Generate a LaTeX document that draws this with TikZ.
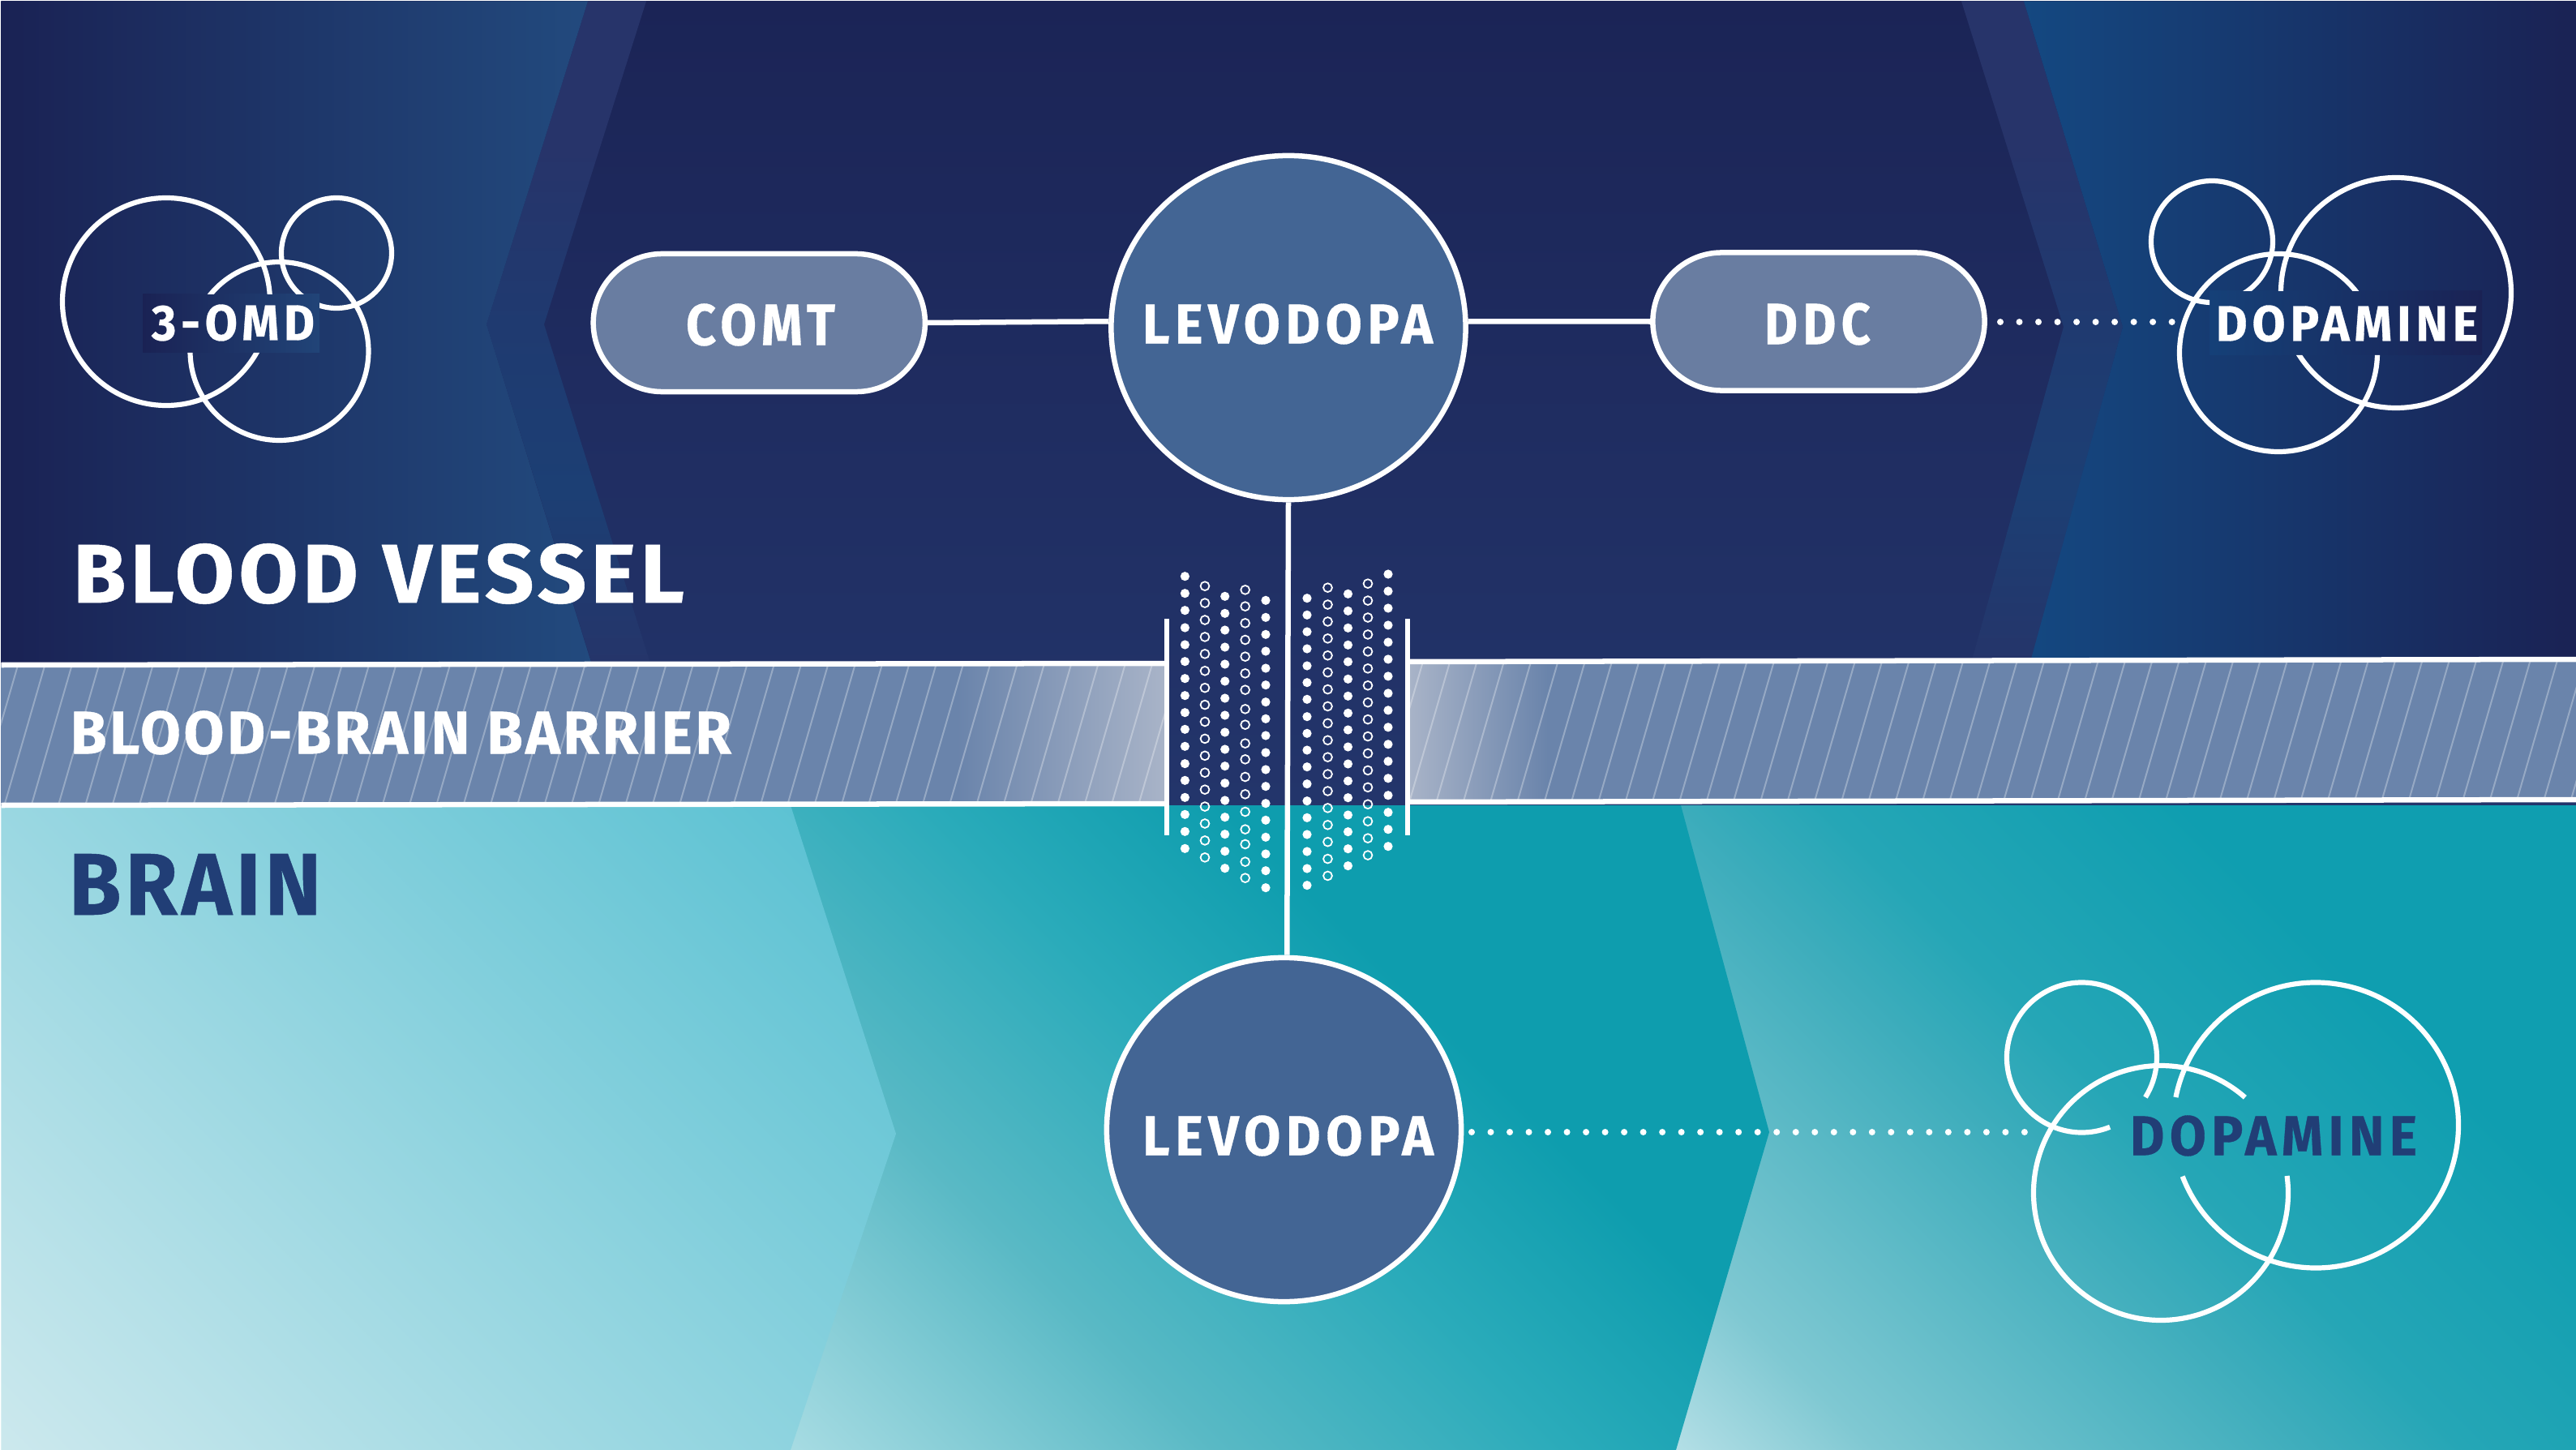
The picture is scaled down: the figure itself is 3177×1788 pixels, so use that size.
\documentclass[tikz,border=0pt]{standalone}
\usepackage{graphicx}
\usepackage{fontspec}
\usetikzlibrary{shapes.misc,shapes.geometric}
\newfontfamily\dinfont{Fira Sans}[LetterSpace=10,BoldFeatures={FakeBold=0.5}]
\newfontfamily\dinwide{Fira Sans}[LetterSpace=5,BoldFeatures={FakeBold=0.5}]
\definecolor{navyA}{HTML}{1B2456}
\definecolor{navyB}{HTML}{23356B}
\definecolor{navyL}{HTML}{1A2254}
\definecolor{blueL}{HTML}{224A7E}
\definecolor{blueR}{HTML}{144881}
\definecolor{bandA}{HTML}{27346A}
\definecolor{bandB}{HTML}{1F3A70}
\definecolor{bandC}{HTML}{1C3F74}
\definecolor{bandD}{HTML}{25356A}
\definecolor{barbase}{HTML}{6A84AB}
\definecolor{barlight}{HTML}{A9B4C8}
\definecolor{circfill}{HTML}{436594}
\definecolor{pillfill}{HTML}{697DA1}
\definecolor{inkblue}{HTML}{213E76}
\definecolor{aa}{HTML}{CBE8ED}
\definecolor{ab}{HTML}{5CC2D3}
\definecolor{ba}{HTML}{A8DCE3}
\definecolor{bb}{HTML}{59B9C5}
\definecolor{bc}{HTML}{2AABBA}
\definecolor{bd}{HTML}{0E9DAE}
\definecolor{ca}{HTML}{B4DFE6}
\definecolor{cb}{HTML}{7FC8D2}
\definecolor{cc}{HTML}{3EADBC}
\definecolor{cd}{HTML}{25A6B6}
\definecolor{ce}{HTML}{0F9EB0}
\pgfdeclareverticalshading{panelA}{100bp}{color(0bp)=(aa);color(15bp)=(aa);color(81bp)=(ab);color(100bp)=(ab)}
\pgfdeclareverticalshading{panelB}{100bp}{color(0bp)=(ba);color(16.75bp)=(ba);color(35bp)=(bb);color(50bp)=(bc);color(62.5bp)=(bd);color(100bp)=(bd)}
\pgfdeclareverticalshading{panelC}{100bp}{color(0bp)=(ca);color(16.75bp)=(ca);color(25.75bp)=(cb);color(45bp)=(cc);color(52bp)=(cd);color(68bp)=(ce);color(100bp)=(ce)}
\pgfdeclarehorizontalshading{barL}{100bp}{color(0bp)=(barbase);color(66bp)=(barbase);color(75bp)=(barlight);color(100bp)=(barlight)}
\pgfdeclarehorizontalshading{barR}{100bp}{color(0bp)=(barlight);color(25bp)=(barlight);color(31bp)=(barbase);color(100bp)=(barbase)}
\pgfdeclareverticalshading{bandshade}{100bp}{color(0bp)=(bandD);color(25bp)=(bandD);color(38bp)=(bandC);color(50.5bp)=(bandB);color(64bp)=(bandA);color(100bp)=(bandA)}
\tikzset{
  rule/.style={draw=white,line width=0.065cm},
  mol/.style={draw=white,line width=0.062cm},
  bigcirc/.style={ellipse,draw=white,line width=0.065cm,fill=circfill,inner sep=0pt,minimum width=4.37cm,minimum height=4.24cm},
  pill/.style={rounded rectangle,draw=white,line width=0.065cm,fill=pillfill,inner sep=0pt,minimum width=4.09cm,minimum height=1.70cm},
  dotline/.style={draw=white,line width=0.08cm,line cap=round,dash pattern=on 0pt off 0.235cm},
  hatch/.style={draw=white,draw opacity=0.3,line width=0.02cm},
  opendot/.style={draw=white,line width=0.018cm},
}
\newcommand{\fitlabel}[7]{%
  \pgfmathsetlengthmacro\fitw{(#4-#2)*0.01cm}%
  \pgfmathsetlengthmacro\fith{(#5-#3)*0.01cm}%
  \node[inner sep=0pt,text=#6] (#1) at ({(#2+#4)/2},{(#3+#5)/2}) {\resizebox{\fitw}{\fith}{\dinfont\bfseries #7}};}
\newcommand{\fitlabelw}[7]{%
  \pgfmathsetlengthmacro\fitw{(#4-#2)*0.01cm}%
  \pgfmathsetlengthmacro\fith{(#5-#3)*0.01cm}%
  \node[inner sep=0pt,text=#6] (#1) at ({(#2+#4)/2},{(#3+#5)/2}) {\resizebox{\fitw}{\fith}{\dinwide\bfseries #7}};}
\newcommand{\molarc}[5]{\draw[mol] ({#1+#3*cos(#4)},{#2+#3*sin(#4)}) arc[start angle=#4,end angle=#5,radius=#3];}
% clip to the whole picture except a box: outer and inner outlines wind in opposite senses
\newcommand{\clipoutbox}[4]{\clip (0,0) -- (3177,0) -- (3177,1788) -- (0,1788) -- cycle (#1,#2) -- (#1,#4) -- (#3,#4) -- (#3,#2) -- cycle;}
\begin{document}
\begin{tikzpicture}[x=0.01cm,y=-0.01cm]
\useasboundingbox (0,0) rectangle (3177,1788);
\fill[white] (0,0) rectangle (3177,1788);
% blood vessel background
\shade[top color=navyA,bottom color=navyB] (1.5,1.5) rectangle (3177,993);
\shade[shading=bandshade] (725,1.5) -- (797,1.5) -- (671,400) -- (802,818) -- (730,818) -- (600,400) -- cycle;
\shade[shading=bandshade] (2419,1.5) -- (2496,1.5) -- (2618,403) -- (2504,818) -- (2431,818) -- (2545,403) -- cycle;
\shade[left color=navyL,right color=blueL] (1.5,1.5) -- (725,1.5) -- (600,400) -- (730,820) -- (1.5,820) -- cycle;
\shade[left color=blueR,right color=navyL] (2496,1.5) -- (3177,1.5) -- (3177,816) -- (2504,816) -- (2618,403) -- cycle;
% brain background
\shade[shading=panelC,shading angle=-45] (2000,993) rectangle (3177,1788);
\shade[shading=panelB,shading angle=-45] (900,993) -- (2073,993) -- (2182,1396) -- (2067,1788) -- (900,1788) -- cycle;
\shade[shading=panelA,shading angle=-45] (1.5,993) -- (975,993) -- (1105,1398) -- (975,1788) -- (1.5,1788) -- cycle;
% barrier
\shade[shading=barL] (1.5,820) -- (1439,818) -- (1439,990) -- (1.5,992) -- cycle;
\shade[shading=barR] (1736,817) -- (3177,814) -- (3177,986) -- (1736,989) -- cycle;
\begin{scope}
  \clip (1.5,820) -- (1439,818) -- (1439,990) -- (1.5,992) -- cycle (1736,817) -- (3177,814) -- (3177,986) -- (1736,989) -- cycle;
  \foreach \k in {-30,...,70}{\draw[hatch] ({1021.6+33.3*\k+3},808) -- ({1021.6+33.3*\k-52},998);}
\end{scope}
\draw[rule] (1.5,820) -- (1439,818);
\draw[rule] (1.5,993) -- (1439,991);
\draw[rule] (1736,816) -- (3177,813);
\draw[rule] (1736,989) -- (3177,986);
\draw[rule] (1439,763) -- (1439,1030);
\draw[rule] (1736,763) -- (1736,1030);
% transport dots
\foreach \v in {182,245,308,372,435,497,560,623,686,748,811,875,937,1000,1063,1126,1189}{\fill[white] (1461.4,{650+\v/3}) circle[radius=5.6];}
\foreach \v in {256,319,381,444,507,570,633,696,759,822,884,947,1011,1073,1136,1199,1262}{\fill[white] (1510.7,{650+\v/3}) circle[radius=5.6];}
\foreach \v in {271,334,397,459,522,584,647,709,771,834,897,959,1022,1084,1147,1209,1271,1334}{\fill[white] (1561,{650+\v/3}) circle[radius=5.6];}
\foreach \v in {263,325,387,450,513,575,637,701,763,825,887,950,1013,1075,1137,1200,1263,1325}{\fill[white] (1612,{650+\v/3}) circle[radius=5.6];}
\foreach \v in {247,310,373,436,498,562,625,688,750,813,876,939,1001,1065,1127,1190,1253}{\fill[white] (1662.5,{650+\v/3}) circle[radius=5.6];}
\foreach \i in {0,...,16}{\fill[white] (1712,{650+(174+62.94*\i)/3}) circle[radius=5.6];}
\foreach \i in {0,...,16}{\draw[opendot] (1486,{650+(218+62.75*\i)/3}) circle[radius=5.4];}
\foreach \v in {232,293,355,417,479,541,602,673,731,800,859,924,988,1053,1118,1173,1238,1298}{\draw[opendot] (1535.7,{650+\v/3}) circle[radius=5.4];}
\foreach \i in {0,...,17}{\draw[opendot] (1637.5,{650+(224+62.7*\i)/3}) circle[radius=5.4];}
\foreach \i in {0,...,16}{\draw[opendot] (1687,{650+(209+62.8*\i)/3}) circle[radius=5.4];}
% molecule 3-OMD
\shade[left color=navyL,right color=blueL!85!navyL] (176,363) rectangle (394,435);
\begin{scope}
  \clipoutbox{176}{363}{394}{435}
  \draw[mol] (205,372) circle[radius=128];
  \draw[mol] (415,312) circle[radius=68];
  \draw[mol] (344.5,433) circle[radius=110];
\end{scope}
% molecule dopamine, blood side
\shade[left color=blueR!80!navyL,right color=navyL] (2725,359) rectangle (3061,438);
\begin{scope}
  \clipoutbox{2725}{359}{3061}{438}
  \draw[mol] (2728,298) circle[radius=75];
  \draw[mol] (2955,361) circle[radius=142];
  \draw[mol] (2810,435) circle[radius=122];
\end{scope}
% molecule dopamine, brain side
\molarc{2567.5}{1304}{92.5}{68}{392}
\molarc{2856}{1387.5}{176}{191.3}{519}
\molarc{2665}{1471}{157}{-7.7}{311.4}
% main nodes
\node[bigcirc] (levt) at (1589,404) {};
\node[bigcirc] (levb) at (1583.5,1393) {};
\node[pill] (comt) at (936.3,398) {};
\node[pill] (ddc) at (2243,396.5) {};
\coordinate (dotA) at (2467,397);
\coordinate (dotB) at (2681,397);
\coordinate (dotC) at (1815,1396);
\coordinate (dotD) at (2498,1396);
\draw[rule] (comt.east) -- (levt.178.5);
\draw[rule] (levt.2) -- (ddc.west);
\draw[rule] (levt.south) -- (levb.89);
\draw[dotline] (dotA) -- (dotB);
\draw[dotline] (dotC) -- (dotD);
% labels
\fitlabel{lomd}{187}{376}{388}{420}{white}{3-OMD}
\fitlabel{ldopat}{2733}{377}{3056}{421}{white}{DOPAMINE}
\fitlabel{lcomt}{846}{375}{1030}{426}{white}{COMT}
\fitlabel{llevt}{1409}{375}{1767}{424}{white}{LEVODOPA}
\fitlabel{lddc}{2176}{374}{2307}{425}{white}{DDC}
\fitlabelw{lblood}{90}{671}{844}{744}{white}{BLOOD VESSEL}
\fitlabelw{lbbb}{87}{877}{902}{930}{white}{BLOOD-BRAIN BARRIER}
\fitlabelw{lbrain}{85}{1053}{396}{1128}{inkblue}{BRAIN}
\fitlabel{llevb}{1409}{1376}{1768}{1425}{white}{LEVODOPA}
\fitlabel{ldopab}{2627}{1376}{2981}{1425}{inkblue}{DOPAMINE}
\end{tikzpicture}
\end{document}
